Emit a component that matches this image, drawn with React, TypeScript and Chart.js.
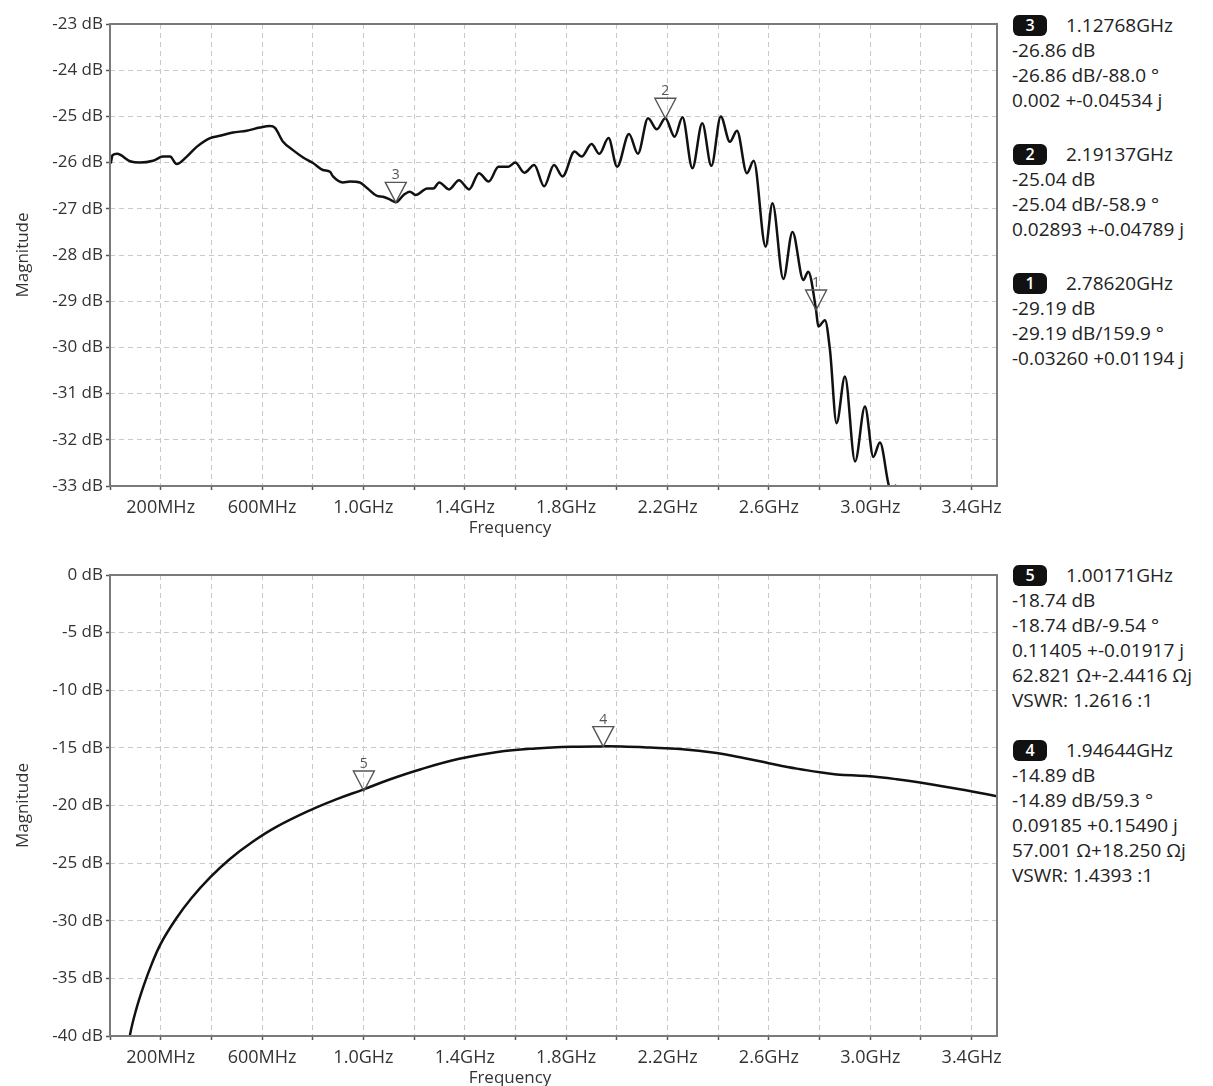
import React, { useEffect, useRef } from 'react';
import { Chart, registerables } from 'chart.js';

Chart.register(...registerables);

const FONT = '"Open Sans", "Noto Sans", "DejaVu Sans", sans-serif';

// ---------- axes ----------
const X_MIN_MHZ = 0;
const X_MAX_MHZ = 3500;
const X_STEP_MHZ = 200;
const X_TICK_MHZ = [200, 600, 1000, 1400, 1800, 2200, 2600, 3000, 3400];
const X_TICK_LABELS = ['200MHz', '600MHz', '1.0GHz', '1.4GHz', '1.8GHz', '2.2GHz', '2.6GHz', '3.0GHz', '3.4GHz'];
const X_TITLE = 'Frequency';
const Y_TITLE = 'Magnitude';

const TOP_Y_MIN = -33;
const TOP_Y_MAX = -23;
const TOP_Y_STEP = 1;
const BOT_Y_MIN = -40;
const BOT_Y_MAX = 0;
const BOT_Y_STEP = 5;

// ---------- top trace (frequency in MHz, magnitude in dB) ----------
const TOP_FREQ_MHZ = [
  3, 10, 28, 79, 118, 170, 209, 237, 263, 303, 342, 395, 434, 485, 539, 592, 631, 651, 683, 722,
  762, 801, 840, 868, 880, 919, 947, 986, 1014, 1054, 1077, 1105, 1128, 1159, 1183, 1206, 1252, 1276,
  1299, 1338, 1377, 1417, 1456, 1494, 1533, 1572, 1599, 1635, 1674, 1713, 1752, 1786, 1833, 1861,
  1900, 1931, 1967, 2001, 2048, 2083, 2123, 2158, 2191, 2228, 2259, 2298, 2337, 2373, 2410, 2446,
  2474, 2513, 2540, 2587, 2614, 2657, 2693, 2736, 2755, 2786, 2795, 2821, 2841, 2867, 2900, 2940,
  2979, 3012, 3038, 3071, 3088, 3100, 3112, 3200, 3350, 3500,
];
const TOP_DB = [
  -26.02, -25.84, -25.81, -25.97, -26.0, -25.96, -25.87, -25.87, -26.03, -25.87, -25.66, -25.47, -25.42,
  -25.35, -25.31, -25.24, -25.21, -25.25, -25.55, -25.73, -25.89, -26.01, -26.16, -26.2, -26.3, -26.43,
  -26.41, -26.43, -26.55, -26.72, -26.74, -26.8, -26.86, -26.7, -26.63, -26.7, -26.56, -26.56, -26.43,
  -26.58, -26.38, -26.58, -26.23, -26.41, -26.09, -26.09, -26.0, -26.22, -26.05, -26.51, -26.05, -26.3,
  -25.76, -25.87, -25.6, -25.81, -25.47, -26.09, -25.38, -25.81, -25.04, -25.28, -25.04, -25.44, -25.02,
  -26.12, -25.15, -26.07, -25.0, -25.55, -25.31, -26.23, -25.96, -27.82, -26.88, -28.52, -27.5, -28.54,
  -28.36, -29.19, -29.55, -29.41, -30.06, -31.64, -30.63, -32.47, -31.28, -32.37, -32.06, -32.94, -33.3,
  -32.99, -33.4, -34.6, -35.6, -36.4,
];
const TOP_MARKER_IDS = ['3', '2', '1'];
const TOP_MARKER_MHZ = [1127.68, 2191.37, 2786.2];
const TOP_MARKER_DB = [-26.86, -25.04, -29.19];

// ---------- bottom trace ----------
const BOT_FREQ_MHZ = [
  60, 79, 102, 132, 163, 200, 260, 321, 397, 472, 563, 653, 789, 895, 1001, 1106, 1227, 1378,
  1529, 1680, 1831, 1940, 2019, 2131, 2249, 2394, 2486, 2604, 2710, 2802, 2867, 2986, 3104, 3196,
  3301, 3407, 3500,
];
const BOT_DB = [
  -42.8, -39.9, -37.8, -35.7, -33.85, -32.0, -29.85, -28.05, -26.2, -24.66, -23.15, -21.9, -20.42,
  -19.45, -18.6, -17.72, -16.85, -15.95, -15.35, -15.05, -14.9, -14.87, -14.88, -14.97, -15.1,
  -15.45, -15.82, -16.35, -16.8, -17.12, -17.3, -17.45, -17.72, -18.0, -18.4, -18.8, -19.2,
];
const BOT_MARKER_IDS = ['5', '4'];
const BOT_MARKER_MHZ = [1001.71, 1946.44];
const BOT_MARKER_DB = [-18.74, -14.89];

// ---------- marker readouts ----------
const TOP_READOUT_IDS = ['3', '2', '1'];
const TOP_READOUT_LINES = [
  ['1.12768GHz', '-26.86 dB', '-26.86 dB/-88.0 °', '0.002 +-0.04534 j'],
  ['2.19137GHz', '-25.04 dB', '-25.04 dB/-58.9 °', '0.02893 +-0.04789 j'],
  ['2.78620GHz', '-29.19 dB', '-29.19 dB/159.9 °', '-0.03260 +0.01194 j'],
];
const BOT_READOUT_IDS = ['5', '4'];
const BOT_READOUT_LINES = [
  ['1.00171GHz', '-18.74 dB', '-18.74 dB/-9.54 °', '0.11405 +-0.01917 j', '62.821 Ω+-2.4416 Ωj', 'VSWR: 1.2616 :1'],
  ['1.94644GHz', '-14.89 dB', '-14.89 dB/59.3 °', '0.09185 +0.15490 j', '57.001 Ω+18.250 Ωj', 'VSWR: 1.4393 :1'],
];

// ---------- layout ----------
const CANVAS_W = 1010;
const TOP_CANVAS_H = 545;
const BOT_CANVAS_TOP = 545;
const BOT_CANVAS_H = 541;
const Y_AXIS_W = 110;
const X_AXIS_H = 40;
const TOP_HEADER_Y = [25, 154, 283];
const BOT_HEADER_Y = [575, 750];

const overlayPlugin = {
  id: 'overlay',
  afterDatasetsDraw(chart: any, _args: any, opts: any) {
    const { ctx, chartArea: a, scales } = chart;
    ctx.save();
    // frame
    ctx.strokeStyle = '#7a7a7a';
    ctx.lineWidth = 2;
    ctx.setLineDash([]);
    ctx.strokeRect(a.left, a.top, a.right - a.left, a.bottom - a.top);
    // markers
    const ids: string[] = opts.ids || [];
    ids.forEach((id, i) => {
      const px = scales.x.getPixelForValue(opts.xs[i]);
      const py = scales.y.getPixelForValue(opts.ys[i]);
      ctx.beginPath();
      ctx.moveTo(px, py);
      ctx.lineTo(px - 10.5, py - 20);
      ctx.lineTo(px + 10.5, py - 20);
      ctx.closePath();
      ctx.strokeStyle = '#555';
      ctx.lineWidth = 1.4;
      ctx.stroke();
      ctx.fillStyle = '#555';
      ctx.font = `14px ${FONT}`;
      ctx.textAlign = 'center';
      ctx.textBaseline = 'alphabetic';
      ctx.fillText(id, px, py - 23);
    });
    // titles
    ctx.fillStyle = '#333';
    ctx.font = `17px ${FONT}`;
    ctx.textAlign = 'center';
    ctx.textBaseline = 'middle';
    ctx.fillText(X_TITLE, opts.xTitleX, opts.xTitleY);
    ctx.translate(23, (a.top + a.bottom) / 2);
    ctx.rotate(-Math.PI / 2);
    ctx.fillText(Y_TITLE, 0, 0);
    ctx.restore();
  },
};

function makeConfig(p: {
  freqs: number[]; dbs: number[]; yMin: number; yMax: number; yStep: number;
  ids: string[]; mx: number[]; my: number[]; padTop: number; padBottom: number; xTitleY: number;
  monotone: boolean;
}): any {
  const gridOpts = {
    color: '#c9c9c9',
    lineWidth: 1,
    tickLength: 4,
    tickColor: '#555',
    tickWidth: 1.5,
    tickBorderDash: [],
  };
  return {
    type: 'line',
    data: {
      datasets: [
        {
          data: p.freqs.map((f, i) => ({ x: f, y: p.dbs[i] })),
          borderColor: '#111',
          borderWidth: 2.5,
          pointRadius: 0,
          fill: false,
          cubicInterpolationMode: p.monotone ? 'monotone' : 'default',
          tension: 0.4,
        },
      ],
    },
    options: {
      responsive: false,
      animation: false,
      events: [],
      layout: { padding: { left: 0, top: p.padTop, right: CANVAS_W - 997, bottom: p.padBottom } },
      plugins: {
        legend: { display: false },
        tooltip: { enabled: false },
        overlay: { ids: p.ids, xs: p.mx, ys: p.my, xTitleX: 510, xTitleY: p.xTitleY },
      },
      scales: {
        x: {
          type: 'linear',
          min: X_MIN_MHZ,
          max: X_MAX_MHZ,
          afterFit: (s: any) => { s.height = X_AXIS_H; },
          ticks: {
            stepSize: X_STEP_MHZ,
            includeBounds: false,
            autoSkip: false,
            maxRotation: 0,
            minRotation: 0,
            padding: 7,
            color: '#333',
            font: { family: FONT, size: 18 },
            callback: (v: number) => {
              const i = X_TICK_MHZ.indexOf(v);
              return i >= 0 ? X_TICK_LABELS[i] : '';
            },
          },
          grid: gridOpts,
          border: { display: false, dash: [5, 4] },
        },
        y: {
          type: 'linear',
          min: p.yMin,
          max: p.yMax,
          afterFit: (s: any) => { s.width = Y_AXIS_W; },
          ticks: {
            stepSize: p.yStep,
            padding: 3,
            color: '#333',
            font: { family: FONT, size: 17 },
            callback: (v: number) => `${v} dB`,
          },
          grid: gridOpts,
          border: { display: false, dash: [5, 4] },
        },
      },
    },
    plugins: [overlayPlugin],
  };
}

const lineStyle: React.CSSProperties = {
  position: 'absolute',
  fontSize: 19,
  lineHeight: '25px',
  color: '#222',
  whiteSpace: 'nowrap',
  fontFamily: FONT,
};

function Readout({ id, lines, y }: { id: string; lines: string[]; y: number }) {
  return (
    <>
      <div
        style={{
          position: 'absolute', left: 1013, top: y - 10.5, width: 34, height: 21, background: '#111',
          borderRadius: 6, color: '#fff', fontSize: 16, lineHeight: '21px', textAlign: 'center',
          fontWeight: 600, fontFamily: FONT,
        }}
      >
        {id}
      </div>
      <div style={{ ...lineStyle, left: 1066, top: y - 12.5 }}>{lines[0]}</div>
      {lines.slice(1).map((t, i) => (
        <div key={i} style={{ ...lineStyle, left: 1012, top: y - 12.5 + 25 * (i + 1) }}>{t}</div>
      ))}
    </>
  );
}

export default function App() {
  const topRef = useRef<HTMLCanvasElement>(null);
  const botRef = useRef<HTMLCanvasElement>(null);

  useEffect(() => {
    const c1 = new Chart(topRef.current as HTMLCanvasElement, makeConfig({
      freqs: TOP_FREQ_MHZ, dbs: TOP_DB, yMin: TOP_Y_MIN, yMax: TOP_Y_MAX, yStep: TOP_Y_STEP,
      ids: TOP_MARKER_IDS, mx: TOP_MARKER_MHZ, my: TOP_MARKER_DB,
      padTop: 24, padBottom: TOP_CANVAS_H - 486 - X_AXIS_H, xTitleY: 528, monotone: true,
    }));
    const c2 = new Chart(botRef.current as HTMLCanvasElement, makeConfig({
      freqs: BOT_FREQ_MHZ, dbs: BOT_DB, yMin: BOT_Y_MIN, yMax: BOT_Y_MAX, yStep: BOT_Y_STEP,
      ids: BOT_MARKER_IDS, mx: BOT_MARKER_MHZ, my: BOT_MARKER_DB,
      padTop: 575 - BOT_CANVAS_TOP, padBottom: BOT_CANVAS_H - (1036 - BOT_CANVAS_TOP) - X_AXIS_H,
      xTitleY: 1078 - BOT_CANVAS_TOP, monotone: false,
    }));
    return () => {
      c1.destroy();
      c2.destroy();
    };
  }, []);

  return (
    <div
      style={{
        position: 'absolute', left: 0, top: 0, width: 1213, height: 1086, overflow: 'hidden',
        background: '#fff',
      }}
    >
      <canvas
        ref={topRef}
        width={CANVAS_W}
        height={TOP_CANVAS_H}
        style={{ position: 'absolute', left: 0, top: 0, width: CANVAS_W, height: TOP_CANVAS_H }}
      />
      <canvas
        ref={botRef}
        width={CANVAS_W}
        height={BOT_CANVAS_H}
        style={{ position: 'absolute', left: 0, top: BOT_CANVAS_TOP, width: CANVAS_W, height: BOT_CANVAS_H }}
      />
      {TOP_READOUT_IDS.map((id, i) => (
        <Readout key={'t' + id} id={id} lines={TOP_READOUT_LINES[i]} y={TOP_HEADER_Y[i]} />
      ))}
      {BOT_READOUT_IDS.map((id, i) => (
        <Readout key={'b' + id} id={id} lines={BOT_READOUT_LINES[i]} y={BOT_HEADER_Y[i]} />
      ))}
    </div>
  );
}
